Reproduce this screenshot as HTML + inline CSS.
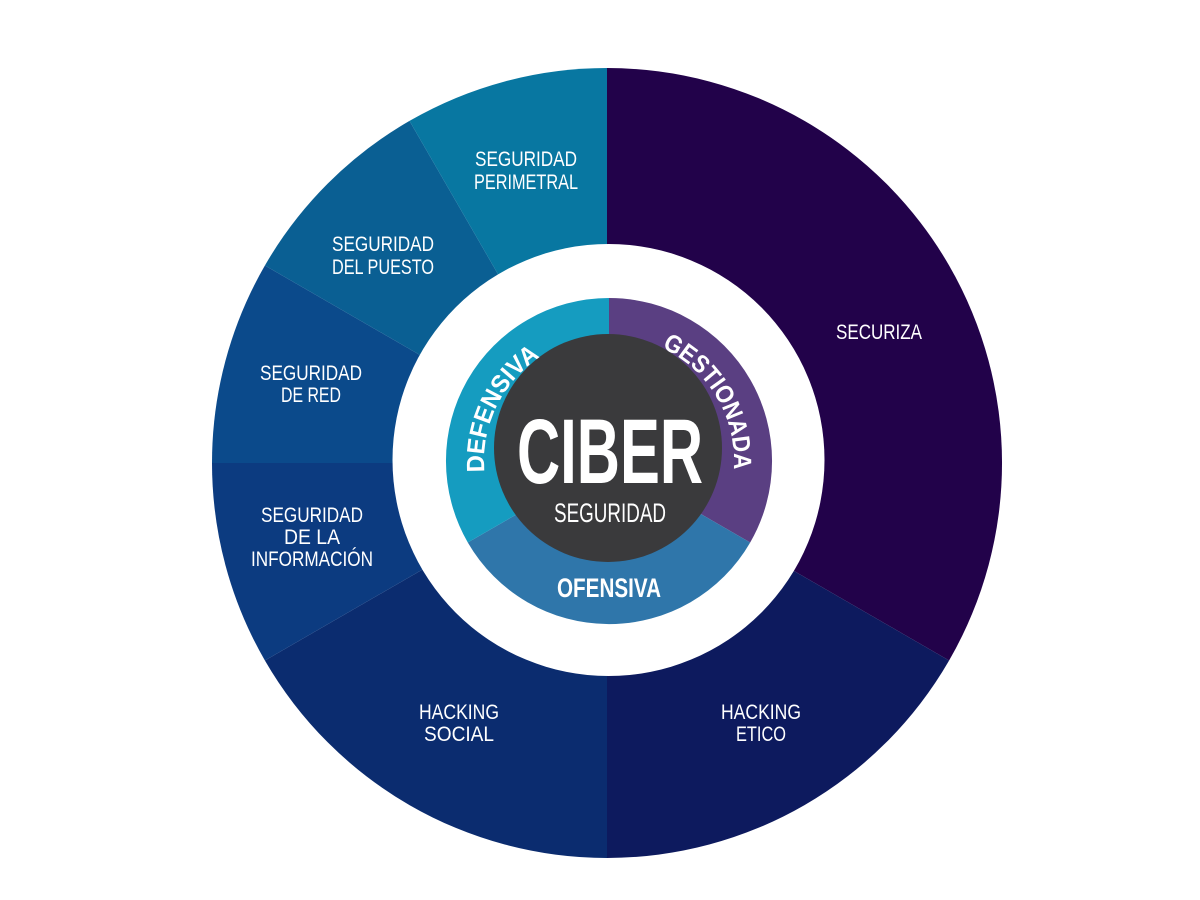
<!DOCTYPE html>
<html><head><meta charset="utf-8"><style>
html,body{margin:0;padding:0;background:#fff;width:1200px;height:900px;overflow:hidden}
svg text{font-family:"Liberation Sans",sans-serif;fill:#fff}
</style></head><body>
<svg width="1200" height="900" viewBox="0 0 1200 900">
<g>
<path d="M607,463 L607,68 A395,395 0 0 1 949.1,660.5 Z" fill="#22024a"/>
<path d="M607,463 L949.1,660.5 A395,395 0 0 1 607,858 Z" fill="#0d1a5e"/>
<path d="M607,463 L607,858 A395,395 0 0 1 264.9,660.5 Z" fill="#0b2c6f"/>
<path d="M607,463 L264.9,660.5 A395,395 0 0 1 212,463 Z" fill="#0c3b80"/>
<path d="M607,463 L212,463 A395,395 0 0 1 264.9,265.5 Z" fill="#0b4a8b"/>
<path d="M607,463 L264.9,265.5 A395,395 0 0 1 409.5,120.9 Z" fill="#0a5f93"/>
<path d="M607,463 L409.5,120.9 A395,395 0 0 1 607,68 Z" fill="#0877a1"/>
</g>
<circle cx="608.5" cy="460" r="216" fill="#fff"/>
<path d="M609,461 L609,298 A163,163 0 0 1 750.2,542.5 Z" fill="#5a3f82"/>
<path d="M609,461 L750.2,542.5 A163,163 0 0 1 467.8,542.5 Z" fill="#2f76aa"/>
<path d="M609,461 L467.8,542.5 A163,163 0 0 1 609,298 Z" fill="#159cc0"/>
<circle cx="608" cy="448" r="114" fill="#3a3a3c"/>
<defs>
<path id="arcL" d="M484.5,472 A125,125 0 0 1 546.5,353"/>
<path id="arcR" d="M661.8,347.7 A125,125 0 0 1 733.5,471.9"/>
</defs>
<g font-weight="bold" font-size="25">
<text><textPath href="#arcL" startOffset="0" textLength="134" lengthAdjust="spacingAndGlyphs">DEFENSIVA</textPath></text>
<text><textPath href="#arcR" startOffset="0" textLength="150" lengthAdjust="spacingAndGlyphs">GESTIONADA</textPath></text>
</g>
<text x="609" y="597" font-size="27" font-weight="bold" text-anchor="middle" textLength="104" lengthAdjust="spacingAndGlyphs">OFENSIVA</text>
<text x="610" y="483" font-size="92" font-weight="bold" text-anchor="middle" textLength="186" lengthAdjust="spacingAndGlyphs">CIBER</text>
<text x="610" y="522" font-size="27" text-anchor="middle" textLength="112" lengthAdjust="spacingAndGlyphs">SEGURIDAD</text>
<g font-size="21" text-anchor="middle">
<text x="526" y="166" textLength="102" lengthAdjust="spacingAndGlyphs">SEGURIDAD</text>
<text x="526" y="189" textLength="104" lengthAdjust="spacingAndGlyphs">PERIMETRAL</text>
<text x="383" y="251" textLength="102" lengthAdjust="spacingAndGlyphs">SEGURIDAD</text>
<text x="383" y="274" textLength="102" lengthAdjust="spacingAndGlyphs">DEL PUESTO</text>
<text x="311" y="380" textLength="102" lengthAdjust="spacingAndGlyphs">SEGURIDAD</text>
<text x="311" y="402" textLength="60" lengthAdjust="spacingAndGlyphs">DE RED</text>
<text x="312" y="522" textLength="102" lengthAdjust="spacingAndGlyphs">SEGURIDAD</text>
<text x="312" y="544" textLength="56" lengthAdjust="spacingAndGlyphs">DE LA</text>
<text x="312" y="566" textLength="122" lengthAdjust="spacingAndGlyphs">INFORMACIÓN</text>
<text x="459" y="719" textLength="80" lengthAdjust="spacingAndGlyphs">HACKING</text>
<text x="459" y="741" textLength="70" lengthAdjust="spacingAndGlyphs">SOCIAL</text>
<text x="761" y="719" textLength="80" lengthAdjust="spacingAndGlyphs">HACKING</text>
<text x="761" y="741" textLength="50" lengthAdjust="spacingAndGlyphs">ETICO</text>
<text x="879" y="339" textLength="86" lengthAdjust="spacingAndGlyphs">SECURIZA</text>
</g>
</svg>
</body></html>
